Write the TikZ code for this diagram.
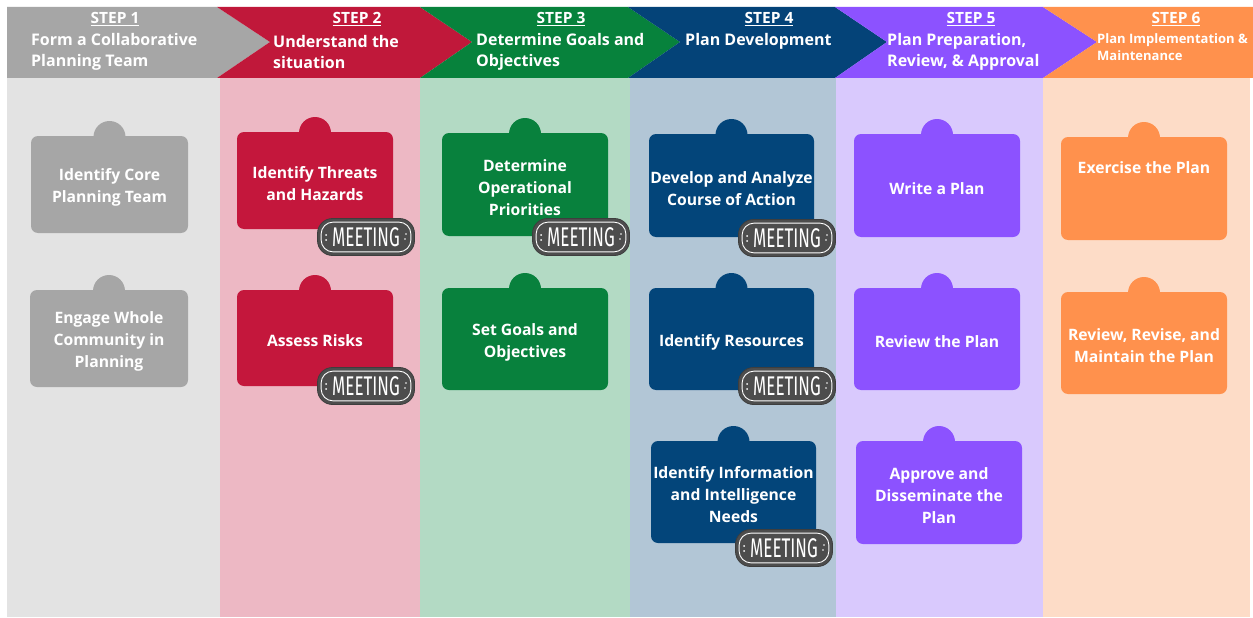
\documentclass[tikz,border=0pt]{standalone}
\usepackage{fontspec}
\setmainfont{Open Sans}
\newfontfamily\meetfont{Fira Sans}
\definecolor{h1}{HTML}{A6A6A6}\definecolor{b1}{HTML}{E3E3E3}\definecolor{k1}{HTML}{A6A6A6}
\definecolor{h2}{HTML}{C0183A}\definecolor{b2}{HTML}{EDB8C4}\definecolor{k2}{HTML}{C4173C}
\definecolor{h3}{HTML}{07823C}\definecolor{b3}{HTML}{B3DAC4}\definecolor{k3}{HTML}{08813D}
\definecolor{h4}{HTML}{044378}\definecolor{b4}{HTML}{B2C6D6}\definecolor{k4}{HTML}{03457A}
\definecolor{h5}{HTML}{8C52FF}\definecolor{b5}{HTML}{D9C9FD}\definecolor{k5}{HTML}{8C52FF}
\definecolor{h6}{HTML}{FF914D}\definecolor{b6}{HTML}{FDDCC7}\definecolor{k6}{HTML}{FF914D}
\definecolor{meetgray}{HTML}{4D4D4D}
\newcommand{\tbox}[7]{% name, left, top, right, bottom, colour, text
  \fill[#6] ({(#2+#4)/2},#3+1) circle (16pt);
  \node[boxnode, fill=#6, minimum width={#4pt-#2pt}, minimum height={#5pt-#3pt}] (#1) at ({(#2+#4)/2},{(#3+#5)/2}) {};
  \node[boxtext] (#1t) at ([yshift=-3pt]#1.center) {#7};
}
\newcommand{\meetbadge}[3]{% name, x, y
  \node[meetpill] (#1) at (#2,#3) {\scalebox{0.63}[1]{MEETING}};
  \draw[white, line width=0.9pt, rounded corners=12pt] ([shift={(4pt,-4pt)}]#1.north west) rectangle ([shift={(-4pt,4pt)}]#1.south east);
  \fill[white] ([shift={(9pt,2pt)}]#1.west) circle (0.9pt) ([shift={(9pt,-3pt)}]#1.west) circle (0.9pt)
               ([shift={(-9pt,3pt)}]#1.east) circle (0.9pt) ([shift={(-10pt,-2pt)}]#1.east) circle (0.9pt);
}
\begin{document}
\begin{tikzpicture}[x=1pt,y=-1pt,
  boxnode/.style={rectangle, rounded corners=7pt, inner sep=0pt},
  boxtext/.style={inner sep=0pt, text=white, align=center,
    font=\bfseries\fontsize{15.7}{22}\selectfont},
  hdrstep/.style={text=white, inner sep=0pt, font=\bfseries\fontsize{15.5}{17}\selectfont},
  hdrtitle/.style={text=white, inner sep=0pt, anchor=west, align=left, font=\bfseries\fontsize{16}{21}\selectfont},
  hdrsmall/.style={hdrtitle, font=\bfseries\fontsize{13}{17}\selectfont},
  meetpill/.style={rectangle, fill=meetgray, draw=meetgray!80!black, line width=0.8pt, rounded corners=15pt,
    minimum width=97pt, minimum height=37pt, inner sep=0pt, text=white, font=\meetfont\fontsize{27}{27}\selectfont}
]
\useasboundingbox (0,0) rectangle (1253,618);
\fill[white] (0,0) rectangle (1253,618);
% column backgrounds
\fill[b1] (7,78) rectangle (220,617);
\fill[b2] (220,78) rectangle (420,617);
\fill[b3] (420,78) rectangle (630,617);
\fill[b4] (630,78) rectangle (836,617);
\fill[b5] (836,78) rectangle (1043,617);
\fill[b6] (1043,78) rectangle (1250,617);
% header chevrons
\fill[h1] (7,7) -- (217,7) -- (270,42) -- (217,78) -- (7,78) -- cycle;
\fill[h2] (217,7) -- (420,7) -- (472,42) -- (420,78) -- (217,78) -- (270,42) -- cycle;
\fill[h3] (420,7) -- (628,7) -- (680,42) -- (628,78) -- (420,78) -- (472,42) -- cycle;
\fill[h4] (628,7) -- (835,7) -- (887,42) -- (835,78) -- (628,78) -- (680,42) -- cycle;
\fill[h5] (835,7) -- (1043,7) -- (1097,42) -- (1043,78) -- (835,78) -- (887,42) -- cycle;
\fill[h6] (1043,7) -- (1253,7) -- (1253,78) -- (1043,78) -- (1097,42) -- cycle;
% header texts
\node[hdrstep] (s1) at (115,19) {\underline{STEP 1}};
\node[hdrtitle] (t1) at (31,52) {Form a Collaborative\\Planning Team};
\node[hdrstep] (s2) at (357,19) {\underline{STEP 2}};
\node[hdrtitle] (t2) at (273,52) {Understand the\\situation};
\node[hdrstep] (s3) at (561,19) {\underline{STEP 3}};
\node[hdrtitle] (t3) at (476,52) {Determine Goals and\\Objectives};
\node[hdrstep] (s4) at (769,19) {\underline{STEP 4}};
\node[hdrtitle] (t4) at (685,41) {Plan Development};
\node[hdrstep] (s5) at (971,19) {\underline{STEP 5}};
\node[hdrtitle] (t5) at (887,52) {Plan Preparation,\\Review, \& Approval};
\node[hdrstep] (s6) at (1176,19) {\underline{STEP 6}};
\node[hdrsmall] (t6) at (1097,47) {Plan Implementation \&\\Maintenance};
% boxes
\tbox{c1a}{31}{136}{188}{233}{k1}{Identify Core\\Planning Team}
\tbox{c1b}{30}{290}{188}{387}{k1}{Engage Whole\\Community in\\Planning}
\tbox{c2a}{237}{132}{393}{229}{k2}{Identify Threats\\and Hazards}
\tbox{c2b}{237}{290}{393}{386}{k2}{Assess Risks}
\tbox{c3a}{442}{133}{608}{236}{k3}{Determine\\Operational\\Priorities}
\tbox{c3b}{442}{288}{608}{390}{k3}{Set Goals and\\Objectives}
\tbox{c4a}{649}{134}{814}{237}{k4}{Develop and Analyze\\Course of Action}
\tbox{c4b}{649}{288}{814}{390}{k4}{Identify Resources}
\tbox{c4c}{651}{441}{816}{543}{k4}{Identify Information\\and Intelligence\\Needs}
\tbox{c5a}{854}{134}{1020}{237}{k5}{Write a Plan}
\tbox{c5b}{854}{288}{1020}{390}{k5}{Review the Plan}
\tbox{c5c}{856}{441}{1022}{544}{k5}{Approve and\\Disseminate the\\Plan}
\tbox{c6a}{1061}{137}{1227}{240}{k6}{}
\node[boxtext] (c6lbl) at (1144,168) {Exercise the Plan};
\tbox{c6b}{1061}{292}{1227}{394}{k6}{Review, Revise, and\\Maintain the Plan}
% meeting badges
\meetbadge{m1}{366}{237}
\meetbadge{m2}{366}{386}
\meetbadge{m3}{581}{237}
\meetbadge{m4}{787}{238}
\meetbadge{m5}{787}{386}
\meetbadge{m6}{784}{548}
\end{tikzpicture}
\end{document}
